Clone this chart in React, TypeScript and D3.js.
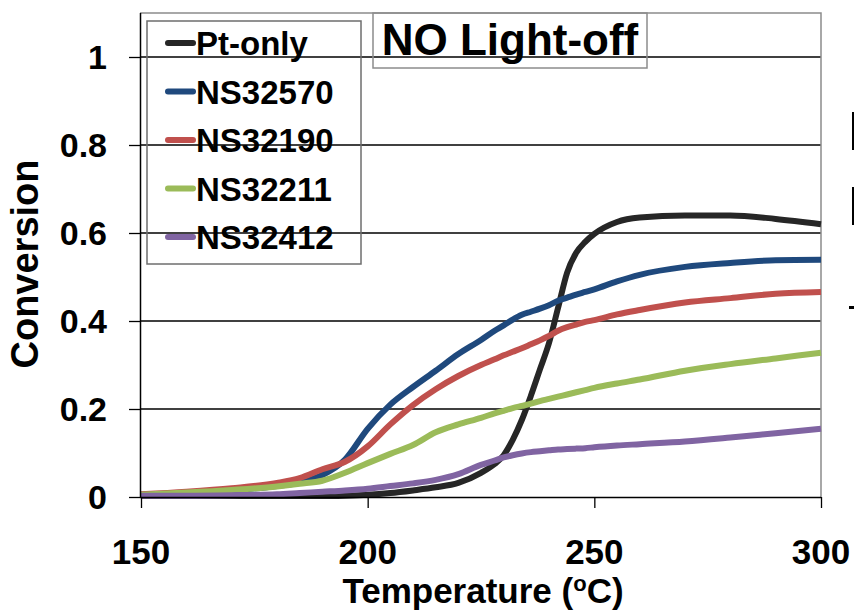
import { useEffect, useRef } from 'react';
import * as d3 from 'd3';

// temperature grid (°C) shared by all series
const temps = [150, 160, 170, 180, 185, 190, 195, 200, 205, 210, 215, 220, 225, 228, 230, 232, 234, 236, 238, 240, 242, 244, 246, 248, 250, 255, 260, 270, 280, 290, 300];

const ptOnly = [0.002, 0.002, 0.002, 0.002, 0.002, 0.002, 0.003, 0.005, 0.009, 0.015, 0.022, 0.032, 0.055, 0.075, 0.095, 0.13, 0.175, 0.23, 0.29, 0.35, 0.43, 0.51, 0.555, 0.58, 0.598, 0.625, 0.635, 0.64, 0.64, 0.632, 0.62];
const ns32570 = [0.005, 0.009, 0.015, 0.025, 0.033, 0.05, 0.085, 0.155, 0.21, 0.25, 0.287, 0.325, 0.357, 0.378, 0.39, 0.403, 0.414, 0.421, 0.428, 0.436, 0.446, 0.453, 0.46, 0.466, 0.472, 0.49, 0.505, 0.523, 0.532, 0.538, 0.539];
const ns32190 = [0.006, 0.012, 0.02, 0.032, 0.043, 0.063, 0.08, 0.115, 0.165, 0.209, 0.245, 0.275, 0.3, 0.313, 0.322, 0.33, 0.338, 0.347, 0.356, 0.366, 0.378, 0.386, 0.392, 0.398, 0.402, 0.415, 0.425, 0.442, 0.452, 0.462, 0.466];
const ns32211 = [0.005, 0.01, 0.016, 0.024, 0.03, 0.037, 0.055, 0.077, 0.098, 0.118, 0.147, 0.165, 0.18, 0.19, 0.196, 0.202, 0.207, 0.212, 0.218, 0.223, 0.228, 0.233, 0.238, 0.243, 0.248, 0.258, 0.267, 0.287, 0.302, 0.315, 0.328];
const ns32412 = [0.003, 0.003, 0.004, 0.006, 0.009, 0.012, 0.015, 0.019, 0.025, 0.031, 0.039, 0.052, 0.073, 0.083, 0.09, 0.095, 0.099, 0.102, 0.104, 0.106, 0.108, 0.109, 0.11, 0.111, 0.113, 0.117, 0.12, 0.126, 0.135, 0.145, 0.155];

const seriesNames = ['Pt-only', 'NS32570', 'NS32190', 'NS32211', 'NS32412'];
const seriesValues = [ptOnly, ns32570, ns32190, ns32211, ns32412];
const seriesColors = ['#262626', '#1F497D', '#C0504D', '#9BBB59', '#8064A2'];

const xTicks = [150, 200, 250, 300];
const yTicks = [0, 0.2, 0.4, 0.6, 0.8, 1];

const FONT = '"Liberation Sans", Arial, sans-serif';

export default function App() {
  const svgRef = useRef<SVGSVGElement>(null);
  const width = 854;
  const height = 612;

  useEffect(() => {
    const svg = d3.select(svgRef.current);
    svg.selectAll('*').remove();

    const x = d3.scaleLinear().domain([150, 300]).range([141, 821]);
    const y = d3.scaleLinear().domain([0, 1.1]).range([497, 13]);

    svg.append('rect').attr('width', width).attr('height', height).attr('fill', '#fff');

    // gridlines
    svg.selectAll('.grid')
      .data(yTicks.filter(d => d > 0))
      .enter().append('line')
      .attr('x1', x(150) - 1)
      .attr('x2', x(300))
      .attr('y1', d => y(d))
      .attr('y2', d => y(d))
      .attr('stroke', '#000')
      .attr('stroke-width', 1.3);

    // plot border (top / right grey)
    svg.append('path')
      .attr('d', `M${x(150) - 1},${y(1.1)}H${x(300)}V${y(0)}`)
      .attr('fill', 'none')
      .attr('stroke', '#8c8c8c')
      .attr('stroke-width', 1.5);

    // series lines
    const line = d3.line<number>()
      .x((d, i) => x(temps[i]))
      .y(d => y(d))
      .curve(d3.curveMonotoneX);

    seriesValues.forEach((vals, i) => {
      svg.append('path')
        .attr('d', line(vals) as string)
        .attr('fill', 'none')
        .attr('stroke', seriesColors[i])
        .attr('stroke-width', 6)
        .attr('stroke-linejoin', 'round')
        .attr('stroke-linecap', 'butt');
    });

    // axes
    const xAxis = svg.append('g')
      .attr('transform', `translate(0,${y(0)})`)
      .call(d3.axisBottom(x).tickValues(xTicks).tickSize(11).tickFormat(() => ''));
    xAxis.select('.domain').attr('d', `M${x(150) - 1},0.5H${x(300)}`).attr('stroke', '#000').attr('stroke-width', 1.5);
    xAxis.selectAll('.tick line').attr('stroke', '#000').attr('stroke-width', 1.3);

    const yAxis = svg.append('g')
      .attr('transform', `translate(${x(150) - 1},0)`)
      .call(d3.axisLeft(y).tickValues(yTicks).tickSize(11).tickFormat(() => ''));
    yAxis.select('.domain').attr('d', `M0.5,${y(1.1)}V${y(0)}`).attr('stroke', '#000').attr('stroke-width', 1.5);
    yAxis.selectAll('.tick line').attr('stroke', '#000').attr('stroke-width', 1.3);

    // tick labels
    svg.selectAll('.xlab')
      .data(xTicks)
      .enter().append('text')
      .attr('x', d => x(d))
      .attr('y', 564)
      .attr('text-anchor', 'middle')
      .style('font-family', FONT)
      .style('font-weight', 'bold')
      .style('font-size', '35px')
      .text(d => String(d));

    svg.selectAll('.ylab')
      .data(yTicks)
      .enter().append('text')
      .attr('x', 107)
      .attr('y', d => y(d) + 12)
      .attr('text-anchor', 'end')
      .style('font-family', FONT)
      .style('font-weight', 'bold')
      .style('font-size', '34px')
      .text(d => String(d));

    // axis titles
    const xt = svg.append('text')
      .attr('x', 483)
      .attr('y', 603)
      .attr('text-anchor', 'middle')
      .style('font-family', FONT)
      .style('font-weight', 'bold')
      .style('font-size', '35px');
    xt.append('tspan').text('Temperature (');
    xt.append('tspan').attr('dy', -12).style('font-size', '22px').text('o');
    xt.append('tspan').attr('dy', 12).text('C)');

    svg.append('text')
      .attr('transform', 'translate(38,264) rotate(-90)')
      .attr('text-anchor', 'middle')
      .style('font-family', FONT)
      .style('font-weight', 'bold')
      .style('font-size', '38px')
      .text('Conversion');

    // title box
    svg.append('rect')
      .attr('x', 373).attr('y', 13).attr('width', 274).attr('height', 55)
      .attr('fill', 'none').attr('stroke', '#8c8c8c').attr('stroke-width', 1.5);
    svg.append('text')
      .attr('x', 510)
      .attr('y', 55)
      .attr('text-anchor', 'middle')
      .style('font-family', FONT)
      .style('font-weight', 'bold')
      .style('font-size', '44px')
      .text('NO Light-off');

    // legend
    svg.append('rect')
      .attr('x', 147).attr('y', 21).attr('width', 214).attr('height', 243)
      .attr('fill', 'none').attr('stroke', '#6e6e6e').attr('stroke-width', 1.5);
    const lg = svg.selectAll('.legend')
      .data(seriesNames)
      .enter().append('g')
      .attr('transform', (d, i) => `translate(0,${43 + i * 48.5})`);
    lg.append('line')
      .attr('x1', 168).attr('x2', 193)
      .attr('stroke', (d, i) => seriesColors[i])
      .attr('stroke-width', 6)
      .attr('stroke-linecap', 'round');
    lg.append('text')
      .attr('x', 196)
      .attr('y', 12)
      .style('font-family', FONT)
      .style('font-weight', 'bold')
      .style('font-size', '33px')
      .text(d => d);

    // clipped slide fragments at the right edge
    svg.append('rect').attr('x', 852).attr('y', 112).attr('width', 2.5).attr('height', 38).attr('fill', '#000');
    svg.append('rect').attr('x', 852).attr('y', 187).attr('width', 2.5).attr('height', 38).attr('fill', '#000');
    svg.append('rect').attr('x', 849).attr('y', 306).attr('width', 5).attr('height', 3).attr('fill', '#000');
  }, []);

  return (
    <svg
      ref={svgRef}
      width={width}
      height={height}
      style={{ position: 'absolute', left: 0, top: 0, display: 'block' }}
    />
  );
}
